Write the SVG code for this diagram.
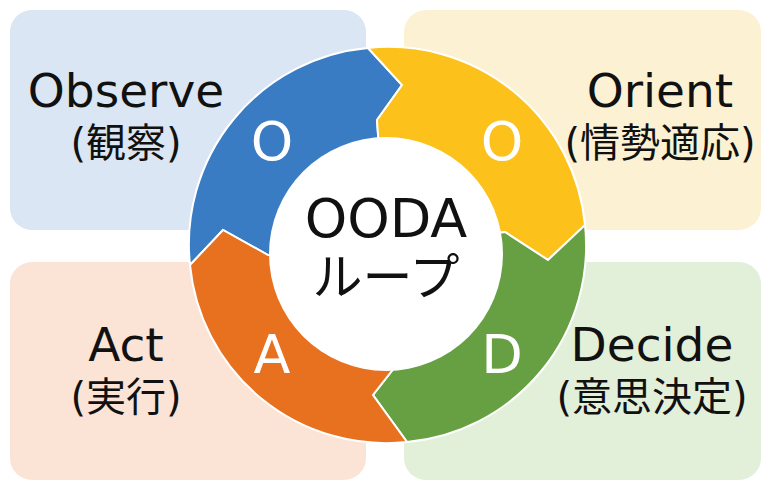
<svg xmlns="http://www.w3.org/2000/svg" width="771" height="491" viewBox="0 0 771 491">
<style>
.t{font-family:"DejaVu Sans","Noto Sans CJK JP",sans-serif;fill:#111;text-anchor:middle}
.big{font-size:47px}.sub{font-size:40px}
.l{font-family:"DejaVu Sans",sans-serif;fill:#fff;font-size:54px;text-anchor:middle}
.seg{stroke:#fff;stroke-width:2;stroke-linejoin:miter}
</style>
<rect width="771" height="491" fill="#fff"/>
<g id="box-observe"><rect x="10" y="10" width="356" height="220" rx="22" fill="#dae6f3"/>
<text class="t big" x="126" y="107">Observe</text><text class="t sub" x="126" y="157">(観察)</text></g>
<g id="box-orient"><rect x="404" y="10" width="357" height="220" rx="22" fill="#fdf1d3"/>
<text class="t big" x="660" y="107">Orient</text><text class="t sub" x="660" y="157">(情勢適応)</text></g>
<g id="box-act"><rect x="10" y="262" width="356" height="218" rx="22" fill="#fbe3d6"/>
<text class="t big" x="126" y="361">Act</text><text class="t sub" x="126" y="411">(実行)</text></g>
<g id="box-decide"><rect x="404" y="262" width="357" height="218" rx="22" fill="#e2efd9"/>
<text class="t big" x="652" y="361">Decide</text><text class="t sub" x="652" y="411">(意思決定)</text></g>
<g id="connectors">
<path class="seg" fill="#3a7cc3" d="M190,265 A197 197 0 0 1 368,48 L402,85 L377,120 L386,250 L268,255 L223,230 Z"/>
<path class="seg" fill="#fcc11a" d="M368,48 A197 197 0 0 1 585,225 L548,260 L505,232 L386,250 L377,120 L402,85 Z"/>
<path class="seg" fill="#67a043" d="M585,225 A197 197 0 0 1 407,442 L373,395 L398,363 L386,250 L505,232 L548,260 Z"/>
<path class="seg" fill="#e8711f" d="M407,442 A197 197 0 0 1 190,265 L223,230 L268,255 L386,250 L398,363 L373,395 Z"/>
</g>
<g id="center"><circle cx="386" cy="254" r="117" fill="#fff"/>
<text class="t" style="font-size:54px" x="386" y="237">OODA</text>
<text class="t" style="font-size:50px" x="386" y="295">ループ</text></g>
<g id="letters">
<text class="l" x="272" y="160">O</text><text class="l" x="502" y="160">O</text>
<text class="l" x="272" y="373">A</text><text class="l" x="502" y="373">D</text></g>
</svg>
